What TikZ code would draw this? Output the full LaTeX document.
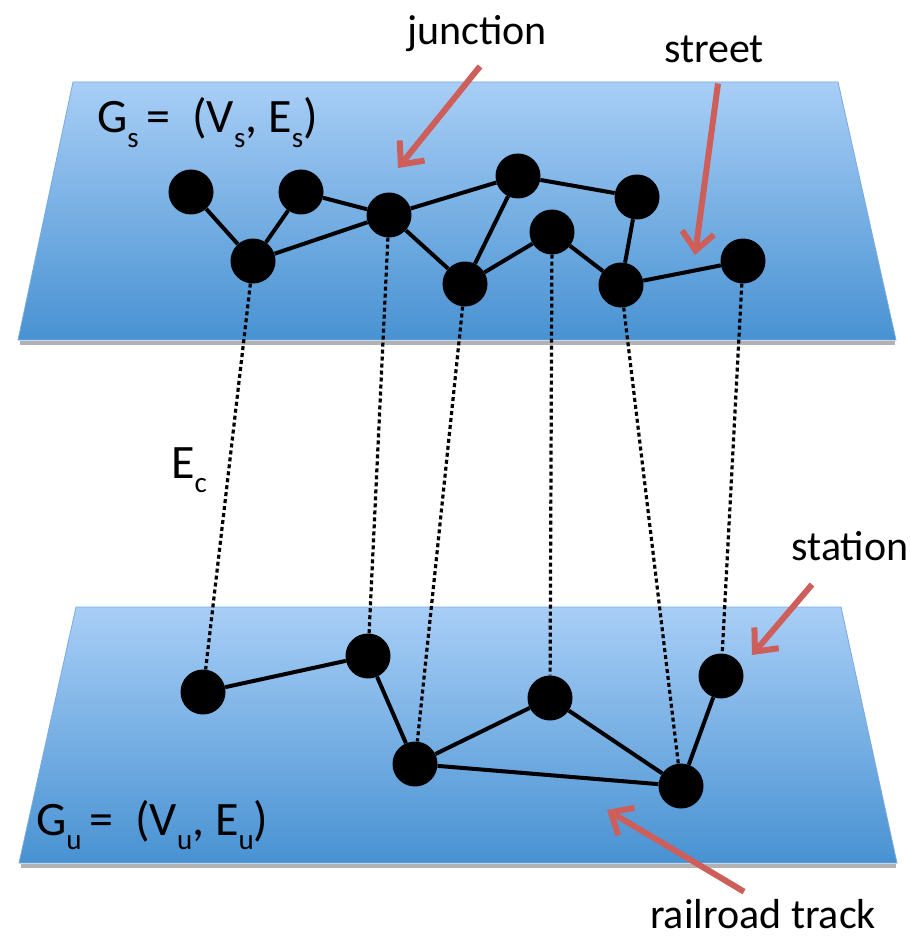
\documentclass[tikz,border=0pt]{standalone}
\usepackage{fontspec}
\setmainfont{Carlito}
\usepackage{tikz}
\usetikzlibrary{arrows.meta}
\definecolor{planetop}{RGB}{168,206,246}
\definecolor{planebot}{RGB}{72,146,210}
\definecolor{planeedge}{RGB}{120,170,225}
\definecolor{pointred}{RGB}{206,94,90}
\newcommand{\lowsub}[1]{\raisebox{-0.3em}{\fontsize{29}{30}\selectfont #1}}

\begin{document}
\begin{tikzpicture}[x=1pt, y=-1pt,
    plane/.style={top color=planetop, bottom color=planebot, draw=planeedge, line width=0.8pt},
    plshadow/.style={draw=black!30, line width=4pt},
    vtx/.style={circle, fill=black, minimum size=45pt, inner sep=0pt},
    road/.style={line width=4pt},
    cross/.style={line width=3.2pt, dash pattern=on 4pt off 3pt},
    lbl/.style={font=\fontsize{42}{48}\selectfont, inner sep=0pt, anchor=base},
    glbl/.style={font=\fontsize{48}{54}\selectfont, inner sep=0pt, anchor=base west},
    pointer/.style={-{Straight Barb[length=18pt,width=32pt]}, line width=6pt, pointred}
  ]
  \useasboundingbox (0,0) rectangle (910,941);
  \draw[plshadow] (20,342.5) -- (895,342.5);
  \draw[plshadow] (21,865.5) -- (896,865.5);
  \path[plane] (73,82) -- (838,82) -- (896,340) -- (18,340) -- cycle;
  \path[plane] (76,607) -- (841,607) -- (897,863) -- (19,863) -- cycle;

  \node[vtx] (s1) at (191,192) {};
  \node[vtx] (s2) at (301,192) {};
  \node[vtx] (s3) at (253,261) {};
  \node[vtx] (s4) at (389,215) {};
  \node[vtx] (s5) at (465,284) {};
  \node[vtx] (s6) at (518,176) {};
  \node[vtx] (s7) at (552,232) {};
  \node[vtx] (s8) at (637,197) {};
  \node[vtx] (s9) at (621,285) {};
  \node[vtx] (s10) at (743,261) {};

  \node[vtx] (u1) at (203,692) {};
  \node[vtx] (u2) at (368,656) {};
  \node[vtx] (u3) at (415,764) {};
  \node[vtx] (u4) at (550,698) {};
  \node[vtx] (u5) at (721,676) {};
  \node[vtx] (u6) at (681,786) {};

  \draw[road] (s1) -- (s3) -- (s2) -- (s4) -- (s6) -- (s5) -- (s7) -- (s9) -- (s10);
  \draw[road] (s3) -- (s4) -- (s5);
  \draw[road] (s6) -- (s8) -- (s9);

  \draw[road] (u1) -- (u2) -- (u3) -- (u4) -- (u6) -- (u5);
  \draw[road] (u3) -- (u6);

  \draw[cross] (s3) -- (u1);
  \draw[cross] (s4) -- (u2);
  \draw[cross] (s5) -- (u3);
  \draw[cross] (s7) -- (u4);
  \draw[cross] (s9) -- (u6);
  \draw[cross] (s10) -- (u5);

  \node[glbl] (gs) at (97,133) {G\lowsub{s}\,=\ \ (V\lowsub{s}, E\lowsub{s})};
  \node[glbl] (gu) at (36,835) {G\lowsub{u}\,=\ \ (V\lowsub{u}, E\lowsub{u})};
  \node[glbl] (ec) at (171,478) {E\lowsub{c}};

  \node[lbl] (junc) at (477,45) {junction};
  \node[lbl] (strt) at (714,63) {street};
  \node[lbl] (stat) at (850,560) {station};
  \node[lbl] (rail) at (763,928) {railroad track};

  \coordinate (jtip) at (398,168);
  \coordinate (stip) at (695,255);
  \coordinate (ttip) at (752,655);
  \coordinate (rtip) at (607,810);
  \draw[pointer] ([shift={(3pt,-14pt)}]junc.south) -- (jtip);
  \draw[pointer] ([shift={(4pt,-20pt)}]strt.south) -- (stip);
  \draw[pointer] ([shift={(-38pt,-24pt)}]stat.south) -- (ttip);
  \draw[pointer] ([shift={(-19pt,7pt)}]rail.north) -- (rtip);
\end{tikzpicture}
\end{document}
